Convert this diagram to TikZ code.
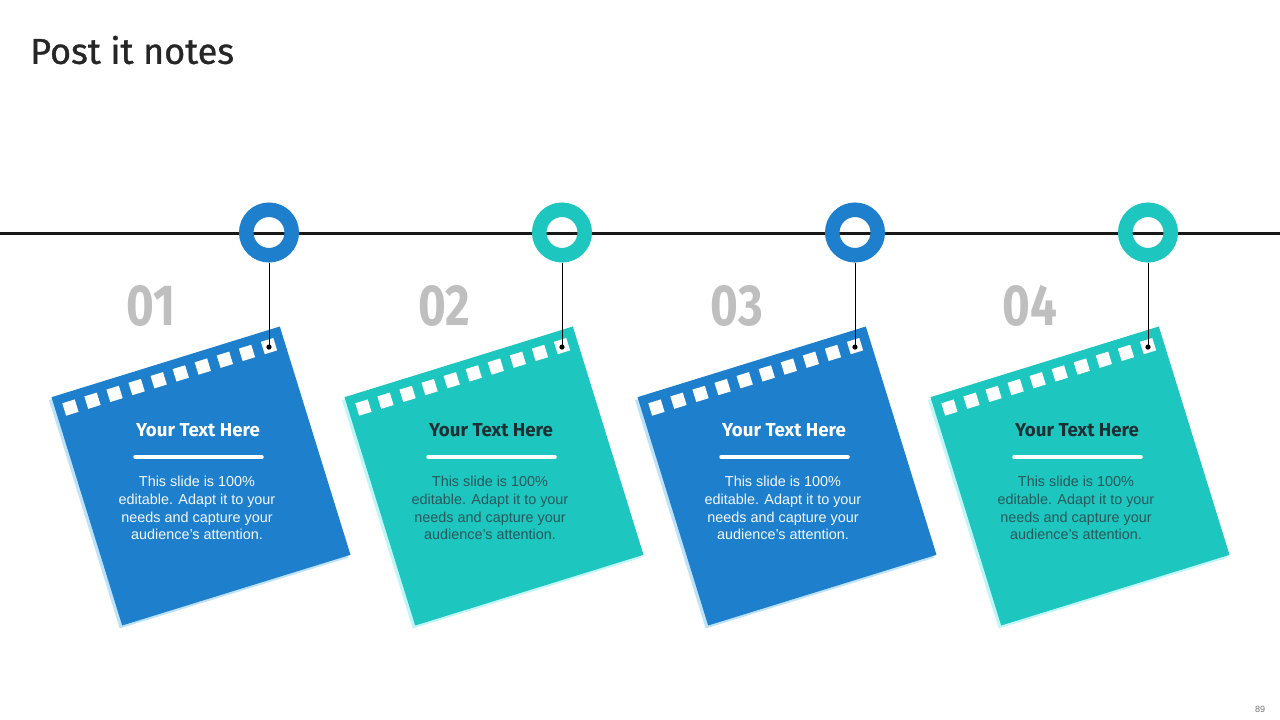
\documentclass[tikz,border=0pt]{standalone}
\usepackage{fontspec}
\usepackage{graphicx}
\setmainfont{Liberation Sans}
\newfontfamily\dinfont{Fira Sans}
\newfontfamily\dinmed[FakeBold=0.9]{Fira Sans}
\definecolor{noteblue}{RGB}{30,128,204}
\definecolor{noteteal}{RGB}{29,198,190}
\definecolor{shblue}{RGB}{190,226,248}
\definecolor{shteal}{RGB}{192,246,246}
\definecolor{numgray}{RGB}{191,191,191}
\definecolor{titledark}{RGB}{38,38,38}
\definecolor{tealtitle}{RGB}{28,48,52}
\definecolor{tealbody}{RGB}{40,88,92}
\definecolor{bluebody}{RGB}{244,248,252}
\tikzset{
  wire/.style={draw=black!90, line width=3pt},
  hang/.style={draw=black, line width=1pt},
  ringnode/.style={circle, draw=#1, line width=14.5pt, minimum size=45.5pt, inner sep=0pt},
  notenum/.style={text=numgray, font=\dinfont\bfseries\fontsize{58}{58}\selectfont, inner sep=0pt},
  notetitle/.style={font=\dinfont\bfseries\fontsize{18.7}{20}\selectfont, inner sep=0pt},
  notebody/.style={font=\fontsize{14.4}{17.7}\selectfont, align=center, inner sep=0pt},
  rule/.style={draw=white, line width=3.5pt, line cap=round},
}
\newcommand{\postnote}[8]{%
  % #1 index, #2 center x, #3 center y, #4 fill, #5 shadow, #6 title colour, #7 body colour, #8 number
  \begin{scope}[shift={(#2-2.5,#3+3)}, rotate=17.2]
    \fill[#5] (-119.5,-119.5) rectangle (119.5,119.5);
  \end{scope}
  \begin{scope}[shift={(#2,#3)}, rotate=17.2]
    \fill[#4] (-119.5,-119.5) rectangle (119.5,119.5);
    \foreach \k in {0,...,9}{
      \fill[white] ({-104.5+\k*23.1-6.5},{-104-6.5}) rectangle ++(13,13);
    }
    \coordinate (pin#1) at ({-104.5+9*23.1},-103);
  \end{scope}
  \node[ringnode=#4] (ring#1) at (#2+68,232.5) {};
  \draw[hang] (ring#1.south) -- (ring#1.south |- pin#1);
  \fill[black] (ring#1.south |- pin#1) circle (2.6);
  \node[notenum] (num#1) at (#2-50,306) {\scalebox{0.82}[1]{#8}};
  \node[notetitle, text=#6] (title#1) at (#2-3,430) {Your Text Here};
  \coordinate (rl#1) at (#2-66,457);
  \coordinate (rr#1) at (#2+61,457);
  \draw[rule] (rl#1) -- (rr#1);
  \node[notebody, text=#7, anchor=north] (body#1) at (#2-4,476) {This slide is 100\%\\editable. Adapt it to your\\needs and capture your\\audience's attention.};
}
\begin{document}
\begin{tikzpicture}[x=1pt,y=-1pt]
  \useasboundingbox (0,0) rectangle (1280,720);
  \fill[white] (0,0) rectangle (1280,720);
  \node[anchor=west, text=titledark, font=\dinmed\fontsize{36}{40}\selectfont, inner sep=0pt] (heading) at (30,50) {Post it notes};
  \coordinate (wl) at (0,233);
  \coordinate (wr) at (1280,233);
  \draw[wire] (wl) -- (wr);
  \postnote{1}{201}{476}{noteblue}{shblue}{white}{bluebody}{01}
  \postnote{2}{494}{476}{noteteal}{shteal}{tealtitle}{tealbody}{02}
  \postnote{3}{787}{476}{noteblue}{shblue}{white}{bluebody}{03}
  \postnote{4}{1080}{476}{noteteal}{shteal}{tealtitle}{tealbody}{04}
  \node[text=black!55, font=\fontsize{9}{10}\selectfont, inner sep=0pt] (page) at (1260,709) {89};
\end{tikzpicture}
\end{document}
